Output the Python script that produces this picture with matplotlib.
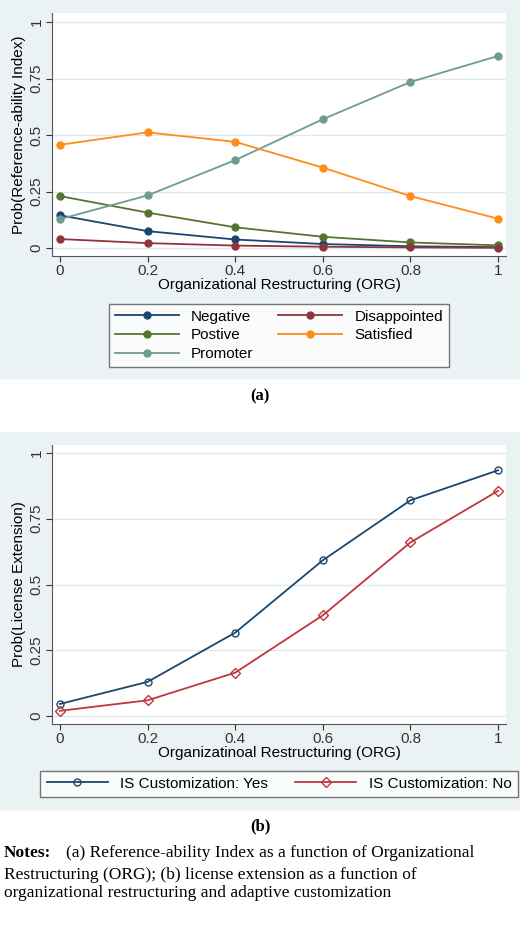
import matplotlib
matplotlib.use("Agg")
import matplotlib.pyplot as plt
from matplotlib.patches import Rectangle

W, H = 520, 927

org = [0, 0.2, 0.4, 0.6, 0.8, 1.0]
negative = [0.145, 0.075, 0.038, 0.018, 0.008, 0.004]
disappointed = [0.040, 0.022, 0.011, 0.006, 0.003, 0.001]
postive = [0.230, 0.157, 0.092, 0.050, 0.025, 0.012]
satisfied = [0.457, 0.512, 0.470, 0.356, 0.230, 0.130]
promoter = [0.128, 0.233, 0.389, 0.570, 0.735, 0.850]

cust_yes = [0.046, 0.130, 0.317, 0.592, 0.820, 0.934]
cust_no = [0.020, 0.060, 0.165, 0.383, 0.660, 0.856]

xticks = [0, 0.2, 0.4, 0.6, 0.8, 1]
xticklabels = ["0", "0.2", "0.4", "0.6", "0.8", "1"]
yticks = [0, 0.25, 0.5, 0.75, 1]
yticklabels = ["0", "0.25", "0.5", "0.75", "1"]

BG = "#eaf2f3"
GRID = "#dde9ec"
FS = 11
plt.rcParams["font.family"] = ["Liberation Sans", "DejaVu Sans"]


def box(x0, y0, x1, y1):
    # pixel box (top-left origin) -> figure fraction
    return [x0 / W, 1 - y1 / H, (x1 - x0) / W, (y1 - y0) / H]


def style(ax, ylabel, xlabel, ylim):
    ax.set_xlim(-0.018, 1.018)
    ax.set_ylim(*ylim)
    ax.set_xticks(xticks)
    ax.set_xticklabels(xticklabels, fontsize=FS)
    ax.set_yticks(yticks)
    ax.set_yticklabels(yticklabels, fontsize=FS, rotation=90, va="center")
    ax.set_xlabel(xlabel, fontsize=FS, labelpad=0)
    ax.set_ylabel(ylabel, fontsize=FS, labelpad=3)
    ax.grid(axis="y", color=GRID, lw=1)
    ax.set_axisbelow(True)
    for s in ["top", "right"]:
        ax.spines[s].set_visible(False)
    for s in ["left", "bottom"]:
        ax.spines[s].set_color("#555555")
    ax.tick_params(colors="#333333", length=4, pad=2)


fig = plt.figure(figsize=(W / 100, H / 100), dpi=100)
fig.patches.append(Rectangle((0, 1 - 378 / H), 1, 378 / H, transform=fig.transFigure,
                             color=BG, zorder=-1))
fig.patches.append(Rectangle((0, 1 - 809 / H), 1, (809 - 432) / H, transform=fig.transFigure,
                             color=BG, zorder=-1))

# (a)
ax1 = fig.add_axes(box(52, 13, 506, 256))
series = [("Negative", negative, "#1a476f"), ("Postive", postive, "#55752f"),
          ("Promoter", promoter, "#6e9c8f"), ("Disappointed", disappointed, "#90353b"),
          ("Satisfied", satisfied, "#ff8c1a")]
for label, vals, c in series:
    ax1.plot(org, vals, "-o", color=c, lw=1.3, ms=5, label=label)
style(ax1, "Prob(Reference-ability Index)", "Organizational Restructuring (ORG)", (-0.035, 1.04))
leg = ax1.legend(ncol=2, loc="upper center", bbox_to_anchor=(0.5, -0.165), fontsize=FS,
                 fancybox=False, edgecolor="#555555", handlelength=4.2, columnspacing=1.6,
                 labelspacing=0.3, borderpad=0.4)
leg.get_frame().set_linewidth(1)
fig.text(0.5, 1 - 396 / H, "(a)", ha="center", va="center", fontsize=12,
         fontweight="bold", family="Liberation Serif")

# (b)
ax2 = fig.add_axes(box(52, 445, 506, 724))
ax2.plot(org, cust_yes, "-o", color="#1a476f", lw=1.3, ms=5, mfc="none",
         label="IS Customization: Yes")
ax2.plot(org, cust_no, "-D", color="#c0353f", lw=1.3, ms=5, mfc="none",
         label="IS Customization: No")
style(ax2, "Prob(License Extension)", "Organizatinoal Restructuring (ORG)", (-0.03, 1.03))
leg = ax2.legend(ncol=2, loc="upper center", bbox_to_anchor=(0.5, -0.14), fontsize=FS,
                 fancybox=False, edgecolor="#555555", handlelength=4.0, columnspacing=1.8)
leg.get_frame().set_linewidth(1)
fig.text(0.5, 1 - 826 / H, "(b)", ha="center", va="center", fontsize=12,
         fontweight="bold", family="Liberation Serif")

fig.text(4 / W, 1 - 845 / H, "Notes:", ha="left", va="top", fontsize=12.5,
         fontweight="bold", family="Liberation Serif")
fig.text(66 / W, 1 - 845 / H, "(a) Reference-ability Index as a function of Organizational",
         ha="left", va="top", fontsize=12.5, family="Liberation Serif")
fig.text(4 / W, 1 - 867 / H,
         "Restructuring (ORG); (b) license extension as a function of\n"
         "organizational restructuring and adaptive customization",
         ha="left", va="top", fontsize=12.5, family="Liberation Serif", linespacing=1.2)

fig.savefig("out.png", dpi=100)
